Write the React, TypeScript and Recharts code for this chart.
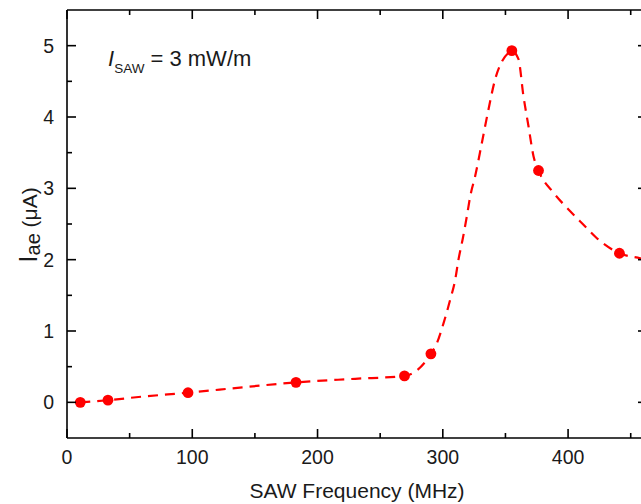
import React from 'react'
import { ComposedChart, Line, Scatter, XAxis, YAxis } from 'recharts'

// measured points (frequency in MHz, current in uA)
const measured = [
  { x: 10.6, y: 0.0 },
  { x: 32.7, y: 0.03 },
  { x: 96.6, y: 0.135 },
  { x: 182.8, y: 0.28 },
  { x: 269.4, y: 0.37 },
  { x: 290.5, y: 0.68 },
  { x: 355.1, y: 4.93 },
  { x: 376.4, y: 3.25 },
  { x: 441, y: 2.09 },
]

// dashed guide curve
const guide = [
  { x: 10.6, y: 0.0 },
  { x: 32.7, y: 0.03 },
  { x: 60, y: 0.08 },
  { x: 96.6, y: 0.135 },
  { x: 140, y: 0.21 },
  { x: 182.8, y: 0.28 },
  { x: 230, y: 0.33 },
  { x: 269.4, y: 0.37 },
  { x: 277, y: 0.42 },
  { x: 290.5, y: 0.68 },
  { x: 295.3, y: 0.83 },
  { x: 300.6, y: 1.11 },
  { x: 305.9, y: 1.44 },
  { x: 309.9, y: 1.72 },
  { x: 312.5, y: 2.0 },
  { x: 316, y: 2.3 },
  { x: 319.2, y: 2.61 },
  { x: 321.9, y: 2.89 },
  { x: 325.8, y: 3.17 },
  { x: 331.2, y: 3.64 },
  { x: 336.5, y: 4.11 },
  { x: 341.8, y: 4.53 },
  { x: 347.2, y: 4.78 },
  { x: 352.5, y: 4.9 },
  { x: 355.1, y: 4.93 },
  { x: 360.4, y: 4.81 },
  { x: 364.4, y: 4.29 },
  { x: 368.4, y: 3.87 },
  { x: 372.4, y: 3.45 },
  { x: 376.4, y: 3.25 },
  { x: 388.3, y: 2.94 },
  { x: 401.7, y: 2.68 },
  { x: 412.3, y: 2.49 },
  { x: 423, y: 2.3 },
  { x: 441, y: 2.09 },
  { x: 457.5, y: 2.02 },
  { x: 463, y: 2.0 },
]

const xTicks = [0, 50, 100, 150, 200, 250, 300, 350, 400, 450]
const yTicks = [0, 0.5, 1, 1.5, 2, 2.5, 3, 3.5, 4, 4.5, 5]

const FONT = '"Liberation Sans", Arial, sans-serif'
const RED = '#ff0000'
const INK = '#1a1a1a'

const BottomTick = (p: any) => {
  const major = p.payload.value % 100 === 0
  return (
    <g>
      <line x1={p.x} x2={p.x} y1={p.y} y2={p.y - (major ? 9 : 5)} stroke="#000" strokeWidth={1.6} />
      {major && (
        <text x={p.x} y={p.y + 26} textAnchor="middle" fontSize={19.5} fill={INK} fontFamily={FONT}>
          {p.payload.value}
        </text>
      )}
    </g>
  )
}

const TopTick = (p: any) => {
  const major = p.payload.value % 100 === 0
  return <line x1={p.x} x2={p.x} y1={p.y} y2={p.y + (major ? 9 : 5)} stroke="#000" strokeWidth={1.6} />
}

const LeftTick = (p: any) => {
  const major = Number.isInteger(p.payload.value)
  return (
    <g>
      <line x1={p.x} x2={p.x + (major ? 9 : 5)} y1={p.y} y2={p.y} stroke="#000" strokeWidth={1.6} />
      {major && (
        <text x={p.x - 13} y={p.y + 7} textAnchor="end" fontSize={19.5} fill={INK} fontFamily={FONT}>
          {p.payload.value}
        </text>
      )}
    </g>
  )
}

const RightTick = (p: any) => {
  const major = Number.isInteger(p.payload.value)
  return <line x1={p.x} x2={p.x - (major ? 9 : 5)} y1={p.y} y2={p.y} stroke="#000" strokeWidth={1.6} />
}

const Dot = (p: any) => <circle cx={p.cx} cy={p.cy} r={5.4} fill={RED} />

export default function App() {
  const axisLine = { stroke: '#000', strokeWidth: 1.6 }
  return (
    <div
      style={{
        position: 'absolute',
        left: 0,
        top: 0,
        width: 641,
        height: 504,
        overflow: 'hidden',
        background: '#fff',
        fontFamily: FONT,
      }}
    >
      <ComposedChart width={660} height={504} margin={{ top: 9, right: 12, left: 7, bottom: 6 }}>
        <XAxis
          xAxisId="b"
          type="number"
          dataKey="x"
          domain={[0, 463]}
          ticks={xTicks}
          interval={0}
          height={60}
          tickSize={0}
          tickMargin={0}
          tickLine={false}
          axisLine={axisLine}
          tick={BottomTick}
          allowDataOverflow
        />
        <XAxis
          xAxisId="t"
          orientation="top"
          type="number"
          dataKey="x"
          domain={[0, 463]}
          ticks={xTicks}
          interval={0}
          height={1}
          tickSize={0}
          tickMargin={0}
          tickLine={false}
          axisLine={axisLine}
          tick={TopTick}
          allowDataOverflow
        />
        <YAxis
          yAxisId="l"
          type="number"
          dataKey="y"
          domain={[-0.5, 5.5]}
          ticks={yTicks}
          interval={0}
          width={60}
          tickSize={0}
          tickMargin={0}
          tickLine={false}
          axisLine={axisLine}
          tick={LeftTick}
          allowDataOverflow
        />
        <YAxis
          yAxisId="r"
          orientation="right"
          type="number"
          domain={[-0.5, 5.5]}
          ticks={yTicks}
          interval={0}
          width={1}
          tickSize={0}
          tickMargin={0}
          tickLine={false}
          axisLine={axisLine}
          tick={RightTick}
          allowDataOverflow
        />
        <Line
          xAxisId="b"
          yAxisId="l"
          data={guide}
          dataKey="y"
          type="monotone"
          stroke={RED}
          strokeWidth={2.2}
          strokeDasharray="10 7"
          dot={false}
          activeDot={false}
          isAnimationActive={false}
        />
        <Scatter
          xAxisId="b"
          yAxisId="l"
          data={measured}
          dataKey="y"
          fill={RED}
          shape={Dot}
          isAnimationActive={false}
        />
      </ComposedChart>
      <svg
        width={641}
        height={504}
        style={{ position: 'absolute', left: 0, top: 0, pointerEvents: 'none' }}
        fontFamily={FONT}
      >
        <text x={108} y={66} fontSize={22} fill={INK}>
          <tspan fontStyle="italic">I</tspan>
          <tspan fontSize={13.5} dy={7}>SAW</tspan>
          <tspan dy={-7}> = 3 mW/m</tspan>
        </text>
        <text
          x={37}
          y={225}
          transform="rotate(-90 37 225)"
          textAnchor="middle"
          fontSize={21}
          fill={INK}
        >
          <tspan fontSize={26}>I</tspan>
          <tspan fontSize={20} dy={3}>ae</tspan>
          <tspan dy={-3}> (μA)</tspan>
        </text>
        <text x={357} y={498} textAnchor="middle" fontSize={21} fill={INK}>
          SAW Frequency (MHz)
        </text>
      </svg>
    </div>
  )
}
